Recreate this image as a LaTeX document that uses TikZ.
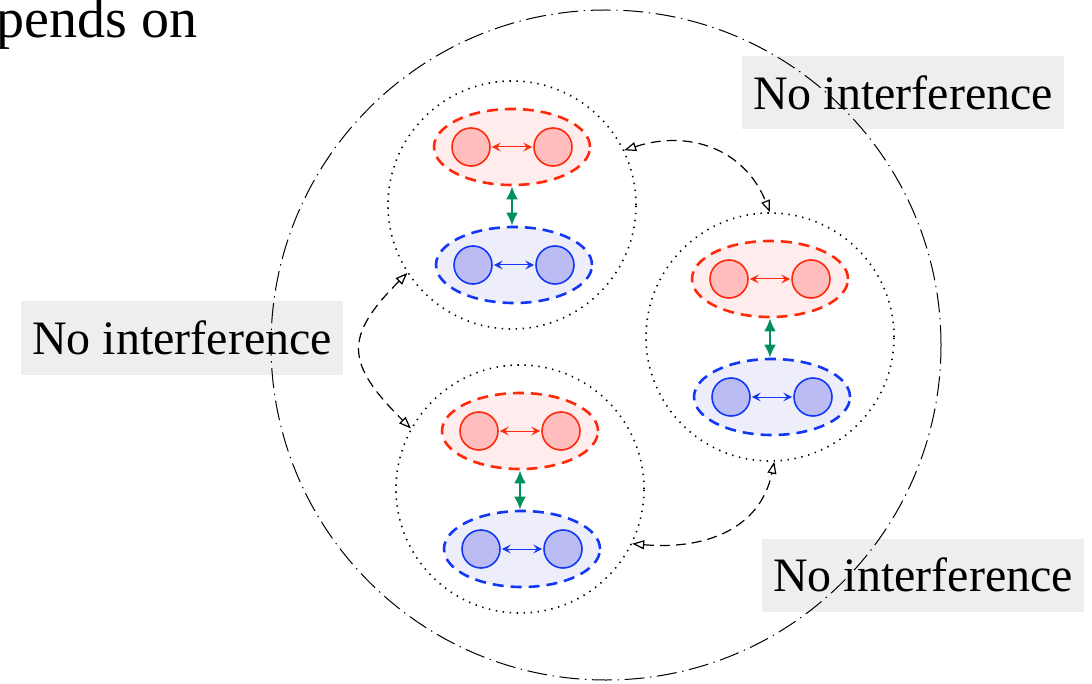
\documentclass[tikz,border=0pt]{standalone}
\usepackage{fontspec}
\setmainfont{Liberation Serif}
\usetikzlibrary{arrows.meta,shapes.geometric}
\definecolor{redline}{HTML}{FF2A0A}
\definecolor{redfill}{HTML}{FFEDED}
\definecolor{redcfill}{HTML}{FFBDBD}
\definecolor{blueline}{HTML}{1238F5}
\definecolor{bluefill}{HTML}{EEEEFB}
\definecolor{bluecfill}{HTML}{BCBCF5}
\definecolor{greenline}{HTML}{00915A}
\definecolor{boxgray}{HTML}{EEEEEE}
\tikzset{
  infobox/.style={fill=boxgray, minimum width=161pt, minimum height=36.5pt, inner sep=0pt, font=\fontsize{24}{29}\selectfont},
  grp/.style={circle, draw=black, line width=0.8pt, dash pattern=on 0.7pt off 2.8pt, minimum size=124pt, inner sep=0pt},
  bigc/.style={circle, draw=black, line width=0.5pt, dash pattern=on 10pt off 2.8pt on 0.7pt off 2.8pt, minimum size=335pt, inner sep=0pt},
  redell/.style={ellipse, draw=redline, fill=redfill, line width=1.3pt, dash pattern=on 5.5pt off 3.5pt, minimum width=78pt, minimum height=38pt, inner sep=0pt},
  blueell/.style={ellipse, draw=blueline, fill=bluefill, line width=1.3pt, dash pattern=on 5.5pt off 3.5pt, minimum width=78pt, minimum height=38pt, inner sep=0pt},
  redc/.style={circle, draw=redline, fill=redcfill, line width=0.8pt, minimum size=19pt, inner sep=0pt},
  bluec/.style={circle, draw=blueline, fill=bluecfill, line width=0.8pt, minimum size=19pt, inner sep=0pt},
  redarr/.style={draw=redline, line width=0.5pt, {Stealth[length=4.5pt,width=4.5pt,inset=1.8pt]}-{Stealth[length=4.5pt,width=4.5pt,inset=1.8pt]}, shorten <=0.5pt, shorten >=0.5pt},
  bluearr/.style={draw=blueline, line width=0.5pt, {Stealth[length=4.5pt,width=4.5pt,inset=1.8pt]}-{Stealth[length=4.5pt,width=4.5pt,inset=1.8pt]}, shorten <=0.5pt, shorten >=0.5pt},
  greenarr/.style={draw=greenline, line width=1.3pt, {Latex[length=6.5pt,width=6pt]}-{Latex[length=6.5pt,width=6pt]}},
  darr/.style={draw=black, line width=0.6pt, dash pattern=on 5pt off 3pt, {Triangle[open,length=6pt,width=4.5pt]}-{Triangle[open,length=6pt,width=4.5pt]}},
}
\newcommand\molgroup[3]{%
  \node[grp] (#1) at (#2,#3) {};
  \node[redell] (#1r) at ([shift={(0,-58)}]#1) {};
  \node[redc] (#1ra) at ([shift={(-41,0)}]#1r) {};
  \node[redc] (#1rb) at ([shift={(41,0)}]#1r) {};
  \draw[redarr] (#1ra) -- (#1rb);
  \node[blueell] (#1b) at ([shift={(2,60)}]#1) {};
  \node[bluec] (#1ba) at ([shift={(-41,0)}]#1b) {};
  \node[bluec] (#1bb) at ([shift={(41,0)}]#1b) {};
  \draw[bluearr] (#1ba) -- (#1bb);
  \draw[greenarr] (#1r.south) -- (#1r.south |- #1b.north);
}
\begin{document}
\begin{tikzpicture}[x=0.5pt,y=-0.5pt]
\useasboundingbox (0,0) rectangle (1092,684);
\node[anchor=base east, font=\fontsize{28}{33}\selectfont, inner sep=0pt] (T) at (198,38) {depends on};
\node[infobox] (L1) at (903,93) {No interference};
\node[infobox] (L2) at (182,338) {No interference};
\node[infobox] (L3) at (923,575) {No interference};
\node[bigc] (O) at (606,345) {};
\molgroup{A}{512}{205}
\molgroup{B}{770}{337}
\molgroup{C}{520}{489}
\draw[darr] (A.26) to[out=18,in=112,looseness=1.1] (B.90);
\draw[darr] (A.213) to[out=225,in=135,looseness=1.5] (C.151);
\draw[darr] (C.-26) to[out=-5,in=258,looseness=1.1] (B.-88);
\end{tikzpicture}
\end{document}
